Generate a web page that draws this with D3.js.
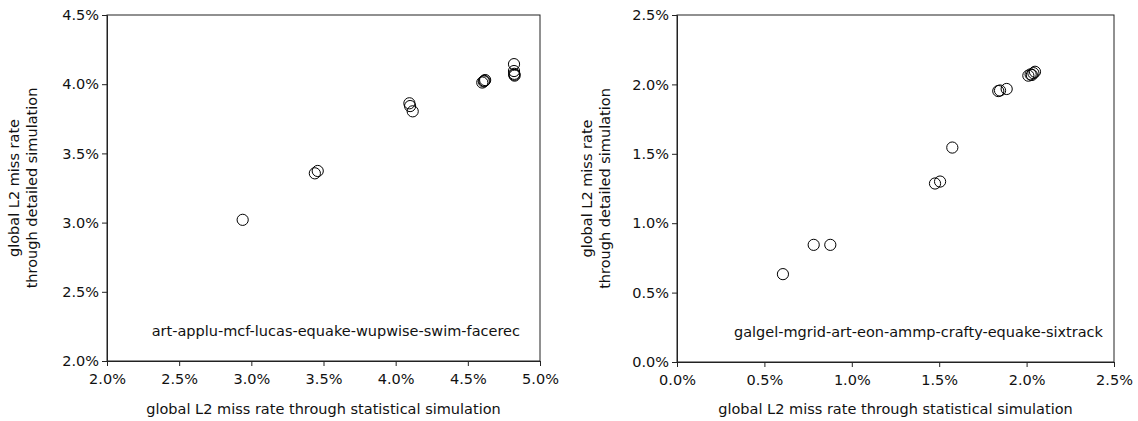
<!DOCTYPE html>
<html>
<head>
<meta charset="utf-8">
<script src="https://cdn.jsdelivr.net/npm/d3@7"></script>
<style>
  body { margin: 0; background: #fff; }
  svg text { font-family: "DejaVu Sans", Verdana, sans-serif; fill: #111; }
</style>
</head>
<body>
<svg id="chart" width="1138" height="421"></svg>
<script>
// left panel: art-applu-mcf-lucas-equake-wupwise-swim-facerec (values in %)
var leftStat   = [2.94, 3.44, 3.46, 4.095, 4.10, 4.118, 4.60, 4.61, 4.62, 4.615, 4.82, 4.82, 4.822, 4.824, 4.822];
var leftDetail = [3.02, 3.356, 3.373, 3.862, 3.842, 3.804, 4.012, 4.02, 4.03, 4.024, 4.145, 4.095, 4.075, 4.062, 4.068];
var leftLabel  = "art-applu-mcf-lucas-equake-wupwise-swim-facerec";
var leftTicks  = [2.0, 2.5, 3.0, 3.5, 4.0, 4.5, 5.0];
var leftYTicks = [2.0, 2.5, 3.0, 3.5, 4.0, 4.5];

// right panel: galgel-mgrid-art-eon-ammp-crafty-equake-sixtrack (values in %)
var rightStat   = [0.606, 0.782, 0.877, 1.476, 1.505, 1.575, 1.838, 1.848, 1.886, 2.01, 2.023, 2.039, 2.048, 2.03];
var rightDetail = [0.633, 0.844, 0.844, 1.286, 1.30, 1.545, 1.952, 1.956, 1.967, 2.063, 2.072, 2.081, 2.091, 2.068];
var rightLabel  = "galgel-mgrid-art-eon-ammp-crafty-equake-sixtrack";
var rightTicks  = [0.0, 0.5, 1.0, 1.5, 2.0, 2.5];

var xTitle = "global L2 miss rate through statistical simulation";
var yTitle = ["global L2 miss rate", "through detailed simulation"];

var svg = d3.select("#chart");
var fmt = function(d){ return d3.format(".1f")(d) + "%"; };
var fs = "14.5px";

function drawPanel(left, right, top, bottom, xDom, yDom, xTicks, yTicks, xs, ys, label, labelPad, titleX){
  var x = d3.scaleLinear().domain(xDom).range([left, right]);
  var y = d3.scaleLinear().domain(yDom).range([bottom, top]);
  var g = svg.append("g");

  // box
  g.append("rect")
    .attr("x", left).attr("y", top)
    .attr("width", right - left).attr("height", bottom - top)
    .attr("fill", "none").attr("stroke", "#222").attr("stroke-width", 1);

  var xAxis = g.append("g")
    .attr("transform", "translate(0," + bottom + ")")
    .call(d3.axisBottom(x).tickValues(xTicks).tickFormat(fmt).tickSizeOuter(0).tickSize(5).tickPadding(8));
  var yAxis = g.append("g")
    .attr("transform", "translate(" + left + ",0)")
    .call(d3.axisLeft(y).tickValues(yTicks).tickFormat(fmt).tickSizeOuter(0).tickSize(5).tickPadding(3));
  [xAxis, yAxis].forEach(function(a){
    a.selectAll(".domain").attr("stroke", "#222");
    a.selectAll(".tick line").attr("stroke", "#222");
    a.selectAll("text").style("font-size", fs).attr("fill", "#111");
  });

  g.selectAll("circle").data(xs).enter().append("circle")
    .attr("cx", function(d){ return x(d); })
    .attr("cy", function(d, i){ return y(ys[i]); })
    .attr("r", 5.6)
    .attr("fill", "none")
    .attr("stroke", "#000")
    .attr("stroke-width", 1);

  g.append("text")
    .attr("x", right - labelPad).attr("y", bottom - 25)
    .attr("text-anchor", "end")
    .style("font-size", fs)
    .text(label);

  g.append("text")
    .attr("x", (left + right) / 2).attr("y", 414)
    .attr("text-anchor", "middle")
    .style("font-size", fs)
    .text(xTitle);

  var cy = (top + bottom) / 2;
  yTitle.forEach(function(t, i){
    g.append("text")
      .attr("transform", "translate(" + (titleX + i * 18) + "," + cy + ") rotate(-90)")
      .attr("text-anchor", "middle")
      .style("font-size", fs)
      .text(t);
  });
}

drawPanel(107, 540, 15, 361, [2.0, 5.0], [2.0, 4.5], leftTicks, leftYTicks, leftStat, leftDetail, leftLabel, 20, 19);
drawPanel(677, 1114, 15, 362, [0.0, 2.5], [0.0, 2.5], rightTicks, rightTicks, rightStat, rightDetail, rightLabel, 11, 592);
</script>
</body>
</html>
